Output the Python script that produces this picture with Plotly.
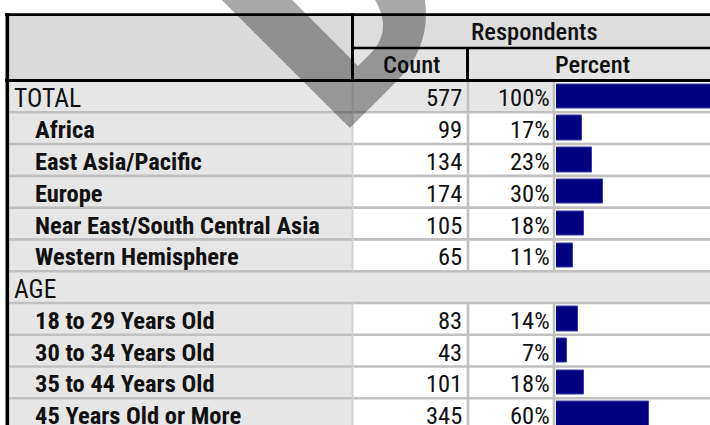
import plotly.graph_objects as go

# table data
row_labels = ["TOTAL", "Africa", "East Asia/Pacific", "Europe",
              "Near East/South Central Asia", "Western Hemisphere",
              "AGE", "18 to 29 Years Old", "30 to 34 Years Old",
              "35 to 44 Years Old", "45 Years Old or More"]
row_kind = ["total", "item", "item", "item", "item", "item",
            "group", "item", "item", "item", "item"]
counts = [577, 99, 134, 174, 105, 65, None, 83, 43, 101, 345]
percents = [100, 17, 23, 30, 18, 11, None, 14, 7, 18, 60]

header_top = "Respondents"
header_cols = ["Count", "Percent"]
watermark = "DRAFT"

W, H = 710, 425
ROW_TOP, ROW_H = 80.5, 31.78
FONT = "Roboto Condensed, Liberation Sans, sans-serif"
GRID = "#C0C0C0"
ROW_BG = "#E6E6E6"


def px(v):
    return v / W


def py(v):
    return 1 - v / H


n = len(row_labels)
rows = list(range(n))

fig = go.Figure()

bar_y = [r for r in rows if percents[r] is not None]
bar_x = [percents[r] for r in bar_y]
fig.add_trace(go.Bar(
    x=bar_x, y=bar_y, orientation="h", width=0.77,
    marker=dict(color="#000080", line=dict(color="#3A3AA8", width=1)),
    hoverinfo="skip", showlegend=False,
))

shapes = []


def rect(x0, x1, y0, y1, color, yref="paper", layer="below"):
    shapes.append(dict(type="rect", xref="paper", yref=yref, x0=x0, x1=x1,
                       y0=y0, y1=y1, fillcolor=color, line=dict(width=0),
                       layer=layer))


def line(x0, x1, y0, y1, color, w, yref="paper"):
    shapes.append(dict(type="line", xref="paper", yref=yref, x0=x0, x1=x1,
                       y0=y0, y1=y1, line=dict(color=color, width=w),
                       layer="above"))


# label column background
rect(px(9), px(353), -0.5, n - 0.5, ROW_BG, yref="y")
for r in rows:
    if row_kind[r] == "total":
        rect(px(353), px(554), r - 0.5, r + 0.5, ROW_BG, yref="y")
    elif row_kind[r] == "group":
        rect(px(353), px(W), r - 0.5, r + 0.5, ROW_BG, yref="y")

# row separators
for r in rows[:-1]:
    line(px(9), px(W), r + 0.5, r + 0.5, GRID, 2.6, yref="y")
# vertical separators in data rows
for r in rows:
    if row_kind[r] == "group":
        continue
    line(px(352.5), px(352.5), r - 0.5, r + 0.5, "#D2D2D2", 2, yref="y")
    line(px(468), px(468), r - 0.5, r + 0.5, GRID, 2.6, yref="y")
    line(px(554), px(554), r - 0.5, r + 0.5, GRID, 2.6, yref="y")

# header cells
rect(px(9), px(353), py(16), py(79), "#DADADA")
rect(px(353), px(W), py(16), py(47), "#DDDDDD")
rect(px(353), px(W), py(49), py(79), "#E3E3E3")

# header borders
line(px(5), px(W), py(14.7), py(14.7), "black", 2.8)
line(px(5), px(W), py(80.5), py(80.5), "black", 3)
line(px(353), px(W), py(48), py(48), "black", 2.6)
line(px(352.5), px(352.5), py(13.3), py(81), "black", 3)
line(px(467.5), px(467.5), py(47), py(81), "black", 3)
line(px(7.3), px(7.3), py(13.3), py(H), "black", 3.6)

annotations = []


def txt(x, y, s, anchor, yref="paper", weight="normal", size=24.5, yshift=0):
    annotations.append(dict(
        x=x, y=y, xref="paper", yref=yref, text=s, showarrow=False,
        xanchor=anchor, yanchor="middle", yshift=yshift,
        font=dict(family=FONT, size=size, color="#111111", weight=weight),
    ))


txt(px(534), py(31.5), header_top, "center", weight=500)
txt(px(411.5), py(64), header_cols[0], "center", weight=500)
txt(px(592), py(64), header_cols[1], "center", weight=500)

for r in rows:
    if row_kind[r] == "item":
        txt(px(33), r, row_labels[r], "left", yref="y", weight="bold", yshift=-1.5)
    else:
        txt(px(12), r, row_labels[r], "left", yref="y", size=25.5, yshift=-1.5)
    if counts[r] is not None:
        txt(px(464), r, str(counts[r]), "right", yref="y", yshift=-1.5)
    if percents[r] is not None:
        txt(px(552), r, f"{percents[r]}%", "right", yref="y", yshift=-1.5)

# watermark, rotated; anchored by the corner of its box so only the D shows
annotations.append(dict(
    x=px(147.4), y=py(190.4), xref="paper", yref="paper", text=watermark,
    showarrow=False, xanchor="left", yanchor="bottom", textangle=-45,
    borderpad=0,
    font=dict(family="Roboto", size=290, weight=900,
              color="rgba(0,0,0,0.34)"),
))

fig.update_layout(
    width=W, height=H, margin=dict(l=0, r=0, t=0, b=0),
    paper_bgcolor="white", plot_bgcolor="white",
    shapes=shapes, annotations=annotations, bargap=0,
    xaxis=dict(domain=[px(556), 1], range=[0, 154 / 1.55], visible=False,
               fixedrange=True),
    yaxis=dict(domain=[0, py(ROW_TOP)],
               range=[-0.5 + (H - ROW_TOP) / ROW_H, -0.5], visible=False,
               fixedrange=True),
)

fig.write_html("out.html", post_script="document.body.style.margin='0';",
               config={"displayModeBar": False})
